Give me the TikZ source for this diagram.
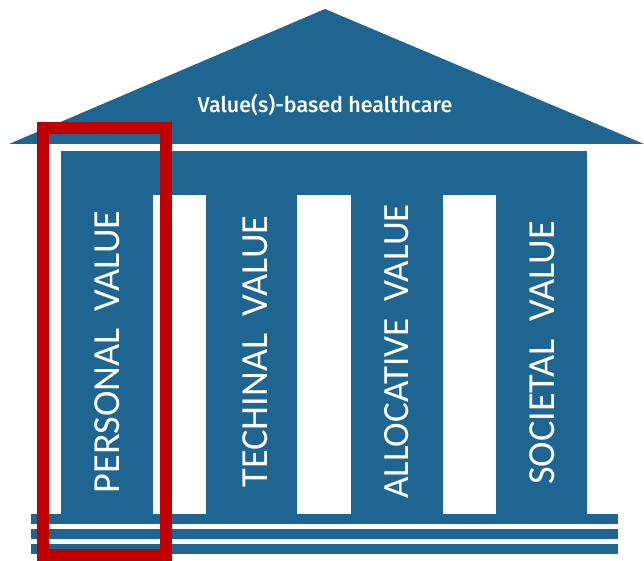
\documentclass[tikz,border=0pt]{standalone}
\usepackage{fontspec}
\setmainfont{Fira Sans}
\newfontfamily\columnfont{Carlito}
\newfontfamily\rooffont{Fira Sans Medium}
\definecolor{ecblue}{HTML}{1F6592}
\definecolor{ecred}{HTML}{C00000}
\tikzset{
  px/.style={x=1pt,y=-1pt},
  blue fill/.style={fill=ecblue,draw=none},
  columnlabel/.style={rotate=90,text=white,font=\columnfont\fontsize{38.3}{40}\selectfont,inner sep=0pt,anchor=center},
  narrowlabel/.style={columnlabel,font=\columnfont\fontsize{37}{40}\selectfont},
  rooflabel/.style={text=white,font=\rooffont\fontsize{21.5}{24}\selectfont,inner sep=0pt,anchor=center},
}
\begin{document}
\begin{tikzpicture}[px]
\useasboundingbox (0,0) rectangle (644,561);
% roof
\fill[blue fill] (325,9) -- (644,144) -- (9,144) -- cycle;
\node[rooflabel] (roof) at (325,105) {Value(s)-based healthcare};
% building
\fill[blue fill] (61,151) rectangle (587,514);
\fill[white] (153,195) rectangle (206,514);
\fill[white] (297,195) rectangle (351,514);
\fill[white] (443,195) rectangle (496,514);
% steps
\fill[blue fill] (31,514) rectangle (618,524);
\fill[blue fill] (31,529) rectangle (618,539);
\fill[blue fill] (31,544) rectangle (618,554);
% column labels
\node[columnlabel] (personal) at (107,352) {PERSONAL\ \ VALUE};
\node[columnlabel] (technical) at (255,351.5) {TECHINAL\ \ VALUE};
\node[narrowlabel] (allocative) at (397,351.5) {ALLOCATIVE\ \ VALUE};
\node[columnlabel] (societal) at (542,353) {SOCIETAL\ \ VALUE};
% highlight
\draw[ecred,line width=12pt] (43,128) rectangle (166,555);
\end{tikzpicture}
\end{document}
